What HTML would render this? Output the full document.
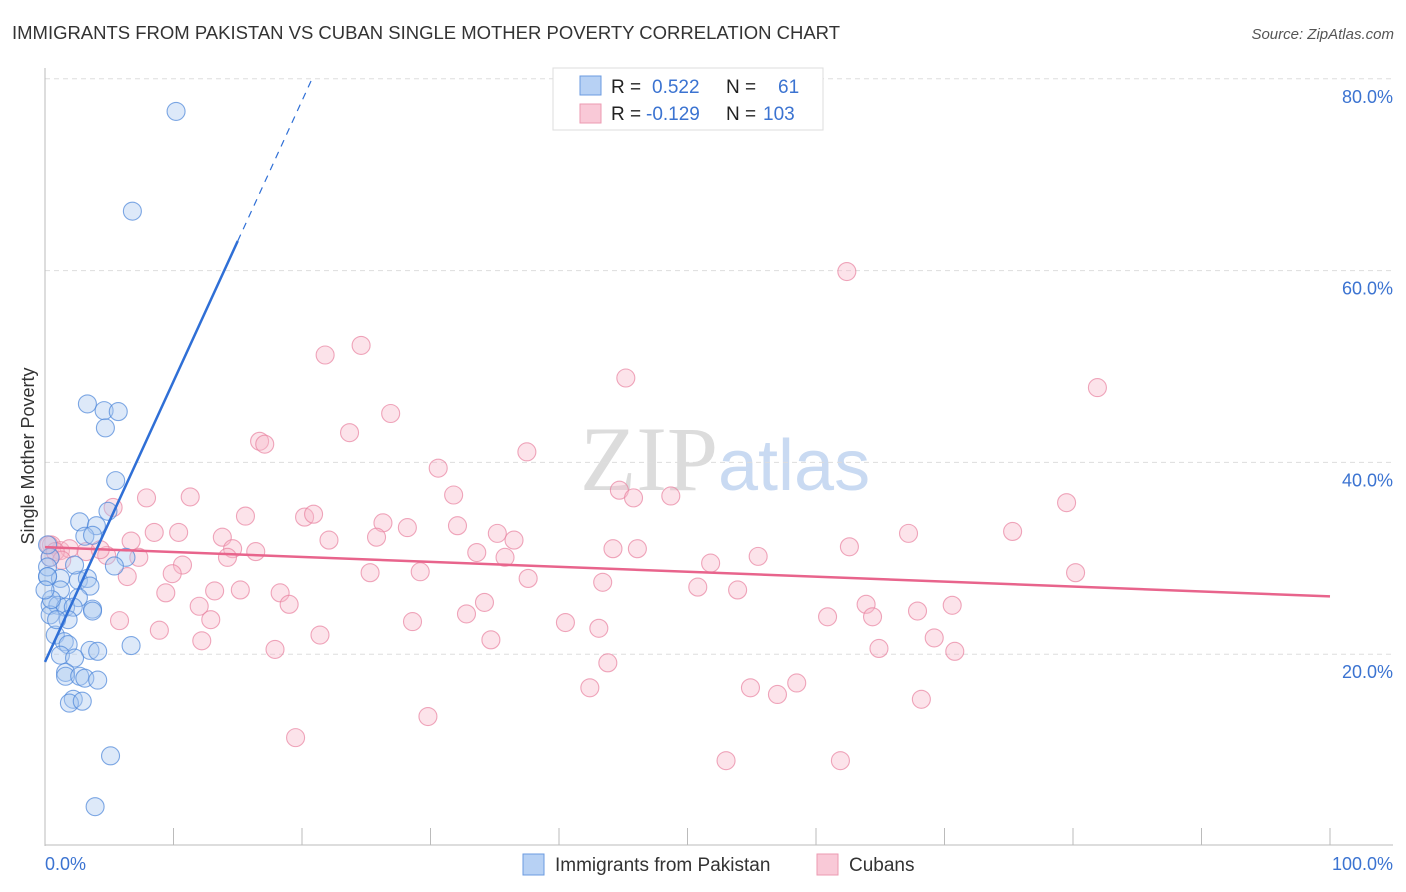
<!DOCTYPE html>
<html><head><meta charset="utf-8">
<style>
body{margin:0;background:#fff;font-family:"Liberation Sans",sans-serif;}
svg{display:block}
</style></head><body>
<svg id="chart" width="1406" height="892" xmlns="http://www.w3.org/2000/svg">
<text x="12" y="39" font-size="18.5" fill="#333" textLength="828">IMMIGRANTS FROM PAKISTAN VS CUBAN SINGLE MOTHER POVERTY CORRELATION CHART</text>
<text x="1394" y="39" font-size="15" fill="#555" font-style="italic" text-anchor="end">Source: ZipAtlas.com</text>
<text x="718" y="490" font-size="92" fill="#dcdcdc" text-anchor="end" font-family="Liberation Serif,serif">ZIP</text>
<text x="718" y="490" font-size="72" fill="#c9daf2">atlas</text>
<g id="grid"></g>
<g id="axes"></g>
<g id="pts"></g>
<g id="lines"></g>
<text transform="translate(34,456) rotate(-90)" font-size="18" fill="#333" text-anchor="middle">Single Mother Poverty</text>
<text x="45" y="870" font-size="18" fill="#3b73d1">0.0%</text>
<text x="1393" y="870" font-size="18" fill="#3b73d1" text-anchor="end">100.0%</text>
<g>
<rect x="553" y="68" width="270" height="62" fill="#fff" stroke="#ddd"/>
<rect x="580" y="76" width="21" height="19" fill="#b7d1f4" stroke="#6b9be0"/>
<rect x="580" y="104" width="21" height="19" fill="#f9c9d7" stroke="#ec9ab2"/>
<text x="611" y="93" font-size="19" fill="#222">R = <tspan fill="#3b73d1" x="652">0.522</tspan><tspan x="726">N =</tspan><tspan fill="#3b73d1" x="778">61</tspan></text>
<text x="611" y="120" font-size="19" fill="#222">R = <tspan fill="#3b73d1" x="646">-0.129</tspan><tspan x="726">N =</tspan><tspan fill="#3b73d1" x="763">103</tspan></text>
</g>
<g>
<rect x="523" y="854" width="21" height="21" fill="#b7d1f4" stroke="#6b9be0"/>
<text x="555" y="871" font-size="19" fill="#333">Immigrants from Pakistan</text></g>
<g>
<rect x="817" y="854" width="21" height="21" fill="#f9c9d7" stroke="#ec9ab2"/>
<text x="849" y="871" font-size="19" fill="#333">Cubans</text></g>
</svg>
<script>
const yTicks=[20,40,60,80];
const yTickLabels=["20.0%","40.0%","60.0%","80.0%"];
const xTicks=[0,10,20,30,40,50,60,70,80,90,100];
const blueX=[10.2,6.8,3.3,4.6,5.7,4.7,5.5,4.9,2.7,4.0,3.1,3.7,6.3,5.4,0.4,0.2,1.2,2.6,3.3,1.2,3.5,2.6,0.4,1.0,1.6,2.2,3.7,3.7,1.8,0.8,1.5,1.8,3.5,4.1,6.7,1.2,2.3,1.6,1.6,2.7,3.1,4.1,2.2,1.9,2.9,5.1,3.9,0.2,0.2,0.4,0.9,2.3,0.5,0.2,0.0];
const blueY=[76.6,66.2,46.1,45.4,45.3,43.6,38.1,34.9,33.8,33.4,32.3,32.4,30.1,29.2,30.1,28.1,27.9,27.7,27.9,26.7,27.1,25.9,25.1,25.1,24.9,24.9,24.7,24.5,23.6,22.0,21.3,21.0,20.4,20.3,20.9,19.9,19.6,18.1,17.7,17.7,17.5,17.3,15.3,14.9,15.1,9.4,4.1,29.1,28.1,24.1,23.6,29.3,25.7,31.4,26.7];
const pinkX=[62.4,21.8,24.6,45.2,81.9,26.9,16.7,17.1,23.7,37.5,30.6,31.8,44.7,45.8,48.7,7.9,11.3,5.3,79.5,15.6,20.2,20.9,26.3,28.2,32.1,35.2,36.5,8.5,10.4,13.8,22.1,25.8,75.3,67.2,62.6,44.2,46.1,55.5,16.4,14.6,14.2,6.7,7.3,33.6,35.8,0.5,1.2,1.9,3.2,4.8,4.3,10.7,51.8,9.9,25.3,29.2,37.6,43.4,80.2,6.4,18.3,9.4,13.2,15.2,19.0,12.0,34.2,50.8,53.9,63.9,70.6,67.9,60.9,64.4,32.8,40.5,43.1,28.6,12.9,5.8,8.9,21.4,34.7,69.2,12.2,64.9,70.8,17.9,43.8,58.5,54.9,57.0,42.4,68.2,29.8,19.5,53.0,61.9,0.3,0.4,0.8,1.3];
const pinkY=[59.9,51.2,52.2,48.8,47.8,45.1,42.2,41.9,43.1,41.1,39.4,36.6,37.1,36.3,36.5,36.3,36.4,35.3,35.8,34.4,34.3,34.6,33.7,33.2,33.4,32.6,31.9,32.7,32.7,32.2,31.9,32.2,32.8,32.6,31.2,31.0,31.0,30.2,30.7,31.0,30.1,31.8,30.1,30.6,30.1,31.4,30.8,31.0,30.7,30.3,30.9,29.3,29.5,28.4,28.5,28.6,27.9,27.5,28.5,28.1,26.4,26.4,26.6,26.7,25.2,25.0,25.4,27.0,26.7,25.2,25.1,24.5,23.9,23.9,24.2,23.3,22.7,23.4,23.6,23.5,22.5,22.0,21.5,21.7,21.4,20.6,20.3,20.5,19.1,17.0,16.5,15.8,16.5,15.3,13.5,11.3,8.9,8.9,31.4,30.1,30.7,29.8];
const NS="http://www.w3.org/2000/svg";
const X0=45,X1=1330,Y0=846,YP=9.59;
const sx=v=>X0+(X1-X0)*v/100;
const sy=v=>Y0-v*YP;
function mk(tag,attrs,parent){const e=document.createElementNS(NS,tag);for(const k in attrs)e.setAttribute(k,attrs[k]);document.getElementById(parent).appendChild(e);return e;}
yTicks.forEach((t,i)=>{
 const l=mk('line',{x1:45,x2:1393,y1:sy(t),y2:sy(t),stroke:'#ddd','stroke-dasharray':'5,4'},'grid');
 
 
 const tx=mk('text',{x:1393,y:sy(t)+24,'font-size':18,fill:'#3b73d1','text-anchor':'end'},'grid');
 tx.textContent=yTickLabels[i];
 
 
});
let a=mk('line',{x1:45,x2:45,y1:68,y2:846,stroke:'#bbb'},'axes');


a=mk('line',{x1:45,x2:1393,y1:845,y2:845,stroke:'#bbb'},'axes');


xTicks.forEach(t=>{
 const l=mk('line',{x1:sx(t),x2:sx(t),y1:828,y2:845,stroke:'#bbb'},'axes');
 
 
});
function dots(xs,ys,fill,stroke,name){
 xs.forEach((x,i)=>{
  const c=mk('circle',{cx:sx(x),cy:sy(ys[i]),r:9,fill:fill,'fill-opacity':0.4,stroke:stroke,'stroke-width':1.1,'stroke-opacity':0.7},'pts');
  
  
 });
}
dots(pinkX,pinkY,'#f7b9cb','#e8819f','cuban-point');
dots(blueX,blueY,'#a9c8f0','#4a84d8','pakistan-point');
function fit(xs,ys){const n=xs.length;let mx=0,my=0;xs.forEach((x,i)=>{mx+=x;my+=ys[i]});mx/=n;my/=n;let sxy=0,sxx=0;xs.forEach((x,i)=>{sxy+=(x-mx)*(ys[i]-my);sxx+=(x-mx)*(x-mx)});const b=sxy/sxx;return [my-b*mx,b];}
const [pa,pb]=fit(pinkX,pinkY);
let ln=mk('line',{x1:sx(0),y1:sy(pa),x2:sx(100),y2:sy(pa+pb*100),stroke:'#e8648c','stroke-width':2.5},'lines');


const [ba,bb]=fit(blueX,blueY);
const xe=15, xd=(80-ba)/bb;
ln=mk('line',{x1:sx(0),y1:sy(ba),x2:sx(xe),y2:sy(ba+bb*xe),stroke:'#2f6fd6','stroke-width':2.5},'lines');


ln=mk('line',{x1:sx(xe),y1:sy(ba+bb*xe),x2:sx(xd),y2:sy(80),stroke:'#2f6fd6','stroke-width':1.2,'stroke-dasharray':'7,6'},'lines');


</script>
</body></html>
